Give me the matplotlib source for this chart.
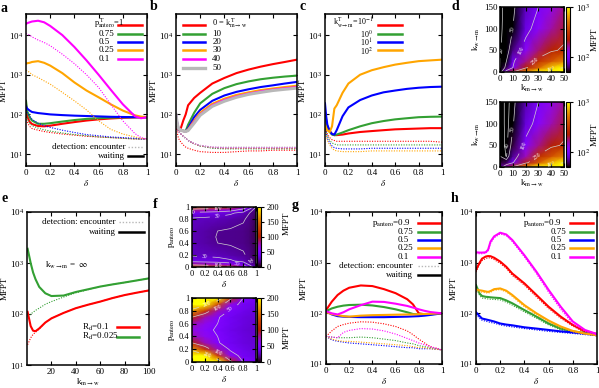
import numpy as np
import matplotlib
matplotlib.use('Agg')
import matplotlib.pyplot as plt
from matplotlib.colors import LogNorm, Normalize

plt.rcParams['font.family'] = ['Liberation Serif', 'DejaVu Serif']
plt.rcParams['mathtext.fontset'] = 'stix'
plt.rcParams['font.size'] = 6.5

# ---------------- data ----------------
# panel a : MFPT vs delta for several p_antero^T
d_a = [0, 0.01, 0.03, 0.05, 0.1, 0.15, 0.2, 0.3, 0.4, 0.5, 0.6, 0.7, 0.8, 0.9, 0.95, 1.0]
a_solid = {
    '1':    [180, 90, 65, 57, 51, 50, 52, 58, 64, 70, 75, 79, 82, 84, 85, 85],
    '0.75': [220, 120, 85, 70, 58, 58, 60, 66, 72, 77, 80, 83, 84, 85, 85, 85],
    '0.5':  [160, 140, 125, 115, 108, 104, 100, 96, 93, 91, 89, 87, 86, 85, 85, 85],
    '0.25': [1900, 1950, 2000, 2100, 2200, 2000, 1700, 1100, 640, 400, 270, 180, 125, 95, 88, 85],
    '0.1':  [19000, 20000, 21000, 22000, 23000, 21000, 17000, 10000, 5000, 2300, 1000, 420, 180, 90, 80, 85],
}
a_dot = {
    '1':    [100, 65, 50, 44, 40, 37, 35, 32, 30, 28, 27, 26, 25, 24, 24, 24],
    '0.75': [110, 80, 60, 52, 45, 41, 38, 34, 31, 29, 27, 26, 25, 24, 24, 24],
    '0.5':  [130, 110, 90, 75, 60, 52, 47, 40, 35, 31, 29, 27, 26, 25, 24, 24],
    '0.25': [1300, 1250, 1150, 1000, 850, 700, 580, 360, 220, 130, 69, 42, 32, 27, 25, 24],
    '0.1':  [11000, 10500, 10000, 9000, 7500, 6500, 5400, 3300, 1900, 1000, 480, 180, 69, 33, 26, 24],
}

# panel b : several k_m->w^T
d_b = [0, 0.01, 0.02, 0.04, 0.06, 0.08, 0.1, 0.15, 0.2, 0.3, 0.4, 0.5, 0.6, 0.7, 0.8, 0.9, 1.0]
b_solid = {
    '0':  [60, 45, 40, 45, 70, 100, 170, 260, 350, 600, 830, 1100, 1350, 1600, 1850, 2100, 2400],
    '10': [60, 50, 42, 40, 39, 38, 55, 110, 190, 330, 460, 580, 680, 770, 840, 900, 950],
    '20': [100, 60, 45, 40, 38, 37, 45, 85, 130, 220, 300, 370, 430, 490, 540, 600, 660],
    '30': [80, 55, 45, 40, 38, 37, 42, 70, 110, 185, 250, 310, 360, 410, 450, 490, 530],
    '40': [100, 60, 45, 40, 38, 37, 40, 65, 100, 170, 230, 285, 335, 380, 420, 455, 490],
    '50': [100, 60, 45, 40, 38, 37, 39, 60, 95, 160, 215, 270, 320, 360, 400, 430, 460],
}
b_dot = {
    '0':  [50, 35, 25, 20, 17, 15, 14, 12.5, 11.5, 11, 11, 11.5, 12, 12, 12.5, 12.5, 12.5],
    '10': [55, 45, 38, 32, 28, 25, 22, 18, 16, 14, 13.5, 13.5, 13.5, 13.5, 13.5, 13.5, 13.5],
    '20': [55, 45, 38, 32, 28, 25, 22, 18, 16, 14.5, 14, 14, 14, 14, 14, 14, 14],
    '30': [55, 45, 38, 32, 28, 25, 22, 18, 16, 14.5, 14, 14, 14, 14, 14, 14, 14],
    '40': [55, 45, 38, 32, 28, 25, 22, 18.5, 16.5, 15, 14.5, 14.5, 14.5, 14.5, 14.5, 14.5, 14.5],
    '50': [55, 45, 38, 32, 28, 25, 22, 18.5, 16.5, 15, 15, 15, 15, 15, 15, 15, 15],
}

# panel c : several k_w->m^T
d_c = d_b
c_solid = {
    '-1': [110, 70, 50, 38, 32, 30, 30, 31, 33, 36, 38, 40, 42, 43, 44, 45, 45],
    '0':  [100, 65, 48, 36, 31, 30, 31, 35, 40, 50, 60, 68, 75, 80, 85, 87, 88],
    '1':  [190, 90, 55, 38, 32, 31, 40, 90, 150, 230, 300, 360, 400, 440, 470, 490, 500],
    '2':  [55, 45, 40, 36, 50, 140, 170, 350, 600, 1000, 1300, 1550, 1800, 2000, 2200, 2300, 2400],
}
c_dot = {
    '-1': [60, 40, 32, 26, 23, 22, 21, 21, 21, 21, 21, 21, 21, 21, 21, 21, 20],
    '0':  [55, 38, 28, 22, 19, 18, 17, 17, 17, 17, 17, 17, 17, 17, 17, 17, 17],
    '1':  [50, 35, 25, 19, 16, 14.5, 14, 13.5, 13.5, 13.5, 14, 14, 14, 14, 14, 14, 14],
    '2':  [45, 30, 22, 17, 14, 12.5, 12, 11.5, 11.5, 11.5, 12, 12, 12, 12, 12, 12, 12],
}

# panel d : heat maps, k_m->w (x) vs k_w->m (y)
kmw = [0, 5, 10, 20, 30, 40, 50]
kwm = [0, 10, 25, 50, 100, 150]
d_top = [
    [30, 120, 250, 600, 1000, 1300, 1600],
    [20, 60, 100, 220, 450, 800, 1000],
    [18, 50, 90, 170, 280, 400, 550],
    [16, 40, 65, 120, 180, 230, 270],
    [15, 30, 50, 85, 120, 160, 200],
    [15, 27, 45, 75, 100, 130, 170],
]
d_bot = [
    [70, 150, 260, 600, 1000, 1300, 1600],
    [55, 60, 95, 210, 420, 720, 1000],
    [50, 39, 68, 150, 260, 380, 520],
    [48, 37, 56, 110, 170, 220, 265],
    [48, 36, 48, 82, 115, 155, 195],
    [48, 36, 45, 72, 100, 128, 165],
]

# panel e : MFPT vs k_m->w, k_w->m = inf
k_e = [0.5, 2, 3, 5, 7, 10, 15, 20, 30, 40, 50, 60, 70, 80, 90, 100]
e_green = [1900, 1300, 1000, 650, 480, 340, 255, 225, 230, 270, 305, 345, 380, 415, 455, 500]
e_green_dot = [90, 95, 100, 108, 118, 130, 155, 175, 215, 260, 300, 345, 380, 415, 455, 500]
e_red = [110, 75, 58, 47, 46, 52, 68, 82, 105, 130, 152, 175, 205, 235, 262, 290]
e_red_dot = [25, 30, 34, 40, 44, 51, 68, 82, 105, 130, 152, 175, 205, 235, 262, 290]

# panel f : heat maps, delta (x) vs p_antero (y)
f_x1 = [0, 0.2, 0.4, 0.6, 0.8, 0.9, 1.0]
f_y1 = [0, 0.05, 0.1, 0.2, 0.4, 0.5, 0.6, 0.8, 0.9, 0.95, 1.0]
f_top = [
    [150, 140, 130, 110, 70, 40, 20],
    [80, 75, 70, 60, 40, 25, 15],
    [40, 38, 36, 32, 26, 20, 12],
    [28, 27, 26, 24, 21, 18, 10],
    [25, 23, 20, 19, 18, 16, 10],
    [25, 23, 19.5, 19, 18, 16, 10],
    [25, 23, 20, 19, 18, 16, 10],
    [28, 27, 26, 24, 21, 18, 10],
    [40, 38, 36, 32, 26, 20, 12],
    [80, 75, 70, 60, 40, 25, 15],
    [150, 140, 130, 110, 70, 40, 20],
]
f_x2 = [0, 0.2, 0.4, 0.6, 0.8, 1.0]
f_y2 = [0, 0.1, 0.2, 0.3, 0.4, 0.5, 0.6, 0.7, 0.8, 0.9, 1.0]
f_bot = [
    [400, 350, 250, 110, 50, 40],
    [300, 220, 130, 62, 42, 36],
    [170, 120, 75, 46, 38, 33],
    [100, 75, 52, 40, 35, 32],
    [75, 62, 50, 40, 35, 31],
    [65, 56, 47, 38, 33, 30],
    [75, 62, 50, 40, 35, 31],
    [100, 75, 52, 40, 35, 32],
    [170, 120, 75, 46, 38, 33],
    [300, 220, 130, 62, 42, 36],
    [400, 350, 250, 110, 50, 40],
]

# panel g
d_g = [0, 0.05, 0.1, 0.15, 0.2, 0.3, 0.4, 0.5, 0.6, 0.7, 0.75, 0.8, 0.85, 0.9, 1.0]
g_solid = {
    '0.9':  [115, 170, 230, 280, 320, 355, 345, 300, 250, 190, 150, 100, 96, 97, 100],
    '0.75': [110, 125, 135, 142, 146, 148, 143, 133, 120, 105, 97, 95, 95, 96, 100],
    '0.5':  [110, 95, 88, 86, 85, 84, 84, 84, 85, 86, 87, 88, 90, 93, 100],
    '0.25': [105, 97, 92, 88, 86, 90, 92, 93, 94, 95, 95, 96, 97, 98, 100],
    '0.1':  [110, 100, 95, 105, 120, 145, 170, 168, 155, 140, 130, 120, 112, 106, 100],
}
g_dot = {
    '0.9':  [35, 45, 55, 60, 64, 68, 67, 62, 55, 45, 38, 31, 26, 22, 19],
    '0.75': [35, 34, 33, 33, 33, 34, 33, 31, 29, 26, 25, 23, 22, 21, 19],
    '0.5':  [35, 30, 28, 27, 26, 25, 24, 23, 22, 21, 21, 20, 20, 20, 19],
    '0.25': [35, 31, 29, 28, 28, 27, 26, 25, 24, 23, 22, 21, 21, 20, 19],
    '0.1':  [35, 34, 33, 42, 46, 50, 49, 45, 39, 32, 29, 26, 24, 22, 19],
}

# panel h
d_h = [0, 0.03, 0.05, 0.08, 0.1, 0.12, 0.15, 0.2, 0.25, 0.3, 0.4, 0.5, 0.6, 0.7, 0.8, 0.9, 1.0]
h_solid = {
    '0.9':  [720, 1000, 1200, 1320, 1350, 1340, 1250, 1050, 830, 610, 390, 230, 135, 86, 59, 44, 39],
    '0.75': [360, 245, 220, 212, 210, 207, 204, 200, 180, 158, 116, 86, 63, 50, 44, 41, 39],
    '0.5':  [105, 88, 79, 76, 74, 72, 69, 63, 60, 58, 53, 50, 47, 44, 42, 40, 37],
    '0.25': [295, 285, 280, 270, 265, 275, 300, 310, 280, 230, 145, 100, 72, 55, 45, 40, 37],
    '0.1':  [1600, 1580, 1580, 1600, 1800, 2600, 3300, 3900, 3600, 2800, 1400, 660, 290, 135, 69, 47, 39],
}
h_dot = {
    '0.9':  [650, 950, 1100, 1200, 1250, 1240, 1150, 970, 770, 560, 360, 210, 125, 80, 56, 42, 37],
    '0.75': [330, 225, 200, 195, 192, 190, 188, 184, 166, 145, 107, 80, 59, 47, 42, 39, 37],
    '0.5':  [95, 80, 73, 70, 68, 66, 64, 59, 56, 54, 50, 47, 44, 42, 40, 38, 36],
    '0.25': [270, 265, 262, 255, 250, 260, 285, 295, 265, 215, 135, 93, 68, 52, 43, 39, 36],
    '0.1':  [1500, 1500, 1500, 1550, 1700, 2400, 3100, 3700, 3400, 2600, 1300, 600, 260, 120, 62, 44, 37],
}

# ---------------- styling ----------------
RED, GRN, BLU, ORA, MAG, GRY = '#ff0000', '#33a033', '#0000ff', '#ffa500', '#ff00ff', '#b8b8b8'
five = [RED, GRN, BLU, ORA, MAG]
DOT = (0, (1, 1.3))
W, H = 599, 388
fig = plt.figure(figsize=(W / 100, H / 100), dpi=100)


def box(l, t, r, b):
    return fig.add_axes([l / W, 1 - b / H, (r - l) / W, (b - t) / H])


def frame(ax, log=True, size=6.5):
    ax.tick_params(direction='in', top=True, right=True, length=3, width=0.8,
                   labelsize=size, pad=2)
    for s in ax.spines.values():
        s.set_linewidth(1.1)
    if log:
        ax.set_yscale('log')
    ax.minorticks_off()


def delta_axis(ax):
    ax.set_xlim(0, 1)
    ax.set_xticks([0, 0.2, 0.4, 0.6, 0.8, 1])
    ax.set_xticklabels(['0', '0.2', '0.4', '0.6', '0.8', '1'])
    ax.set_xlabel(r'$\delta$', labelpad=1)


def key(ax, y, label, color, x0, x1, tx, ha='left', ls='-', lw=1.8, fs=6.5, ty=None):
    ax.plot([x0, x1], [y, y], transform=ax.transAxes, color=color, ls=ls, lw=lw, clip_on=False)
    ax.text(tx, y if ty is None else ty, label, transform=ax.transAxes, ha=ha,
            va='center', fontsize=fs)


rows = [0.928, 0.870, 0.815, 0.760, 0.705, 0.645, 0.585]
PA_T = r'p$_{\mathrm{antero}}^{\,\mathrm{T}}$=1'
PA = r'p$_{\mathrm{antero}}$=0.9'
KMW = r'k$_{\mathrm{m}\rightarrow\mathrm{w}}$'
KWM = r'k$_{\mathrm{w}\rightarrow\mathrm{m}}$'

# ---- a ----
ax = box(26, 14, 147, 166)
frame(ax)
for c, k in zip(five, a_solid):
    ax.plot(d_a, a_dot[k], color=c, ls=DOT, lw=0.8)
    ax.plot(d_a, a_solid[k], color=c, lw=1.5)
ax.set_ylim(5, 3.4e4)
ax.set_yticks([10, 100, 1000, 10000])
delta_axis(ax)
ax.set_ylabel('MFPT', labelpad=1)
labs = [PA_T, '0.75', '0.5', '0.25', '0.1']
for i, (c, l) in enumerate(zip(five, labs)):
    key(ax, rows[i], l, c, 0.76, 0.96, 0.56 if i == 0 else 0.6,
        fs=6 if i == 0 else 6.5, ty=0.94 if i == 0 else None)
key(ax, 0.127, 'detection: encounter', GRY, 0.84, 0.965, 0.82, ha='right', ls=DOT, lw=1)
key(ax, 0.068, 'waiting', 'black', 0.84, 0.965, 0.82, ha='right')

# ---- b ----
ax = box(176, 14, 297, 166)
frame(ax)
bcols = five + [GRY]
for c, k in zip(bcols, b_solid):
    ax.plot(d_b, b_dot[k], color=c, ls=DOT, lw=0.8)
    ax.plot(d_b, b_solid[k], color=c, lw=1.5 if k != '50' else 2.2)
ax.set_ylim(5, 3.4e4)
ax.set_yticks([10, 100, 1000, 10000])
delta_axis(ax)
ax.set_ylabel('MFPT', labelpad=1)
labs = [r'0 = k$_{\mathrm{m}\rightarrow\mathrm{w}}^{\,\mathrm{T}}$', '10', '20', '30', '40', '50']
for i, (c, l) in enumerate(zip(bcols, labs)):
    key(ax, rows[i], l, c, 0.06, 0.24, 0.3, lw=1.8 if i < 5 else 2.4,
        fs=6 if i == 0 else 6.5, ty=0.94 if i == 0 else None)

# ---- c ----
ax = box(325, 14, 442, 166)
frame(ax)
ccols = [RED, GRN, BLU, ORA]
for c, k in zip(ccols, c_solid):
    ax.plot(d_c, c_dot[k], color=c, ls=DOT, lw=0.8)
    ax.plot(d_c, c_solid[k], color=c, lw=1.5)
ax.set_ylim(5, 3.4e4)
ax.set_yticks([10, 100, 1000, 10000])
delta_axis(ax)
ax.set_ylabel('MFPT', labelpad=1)
labs = [r'k$_{\mathrm{w}\rightarrow\mathrm{m}}^{\,\mathrm{T}}$=10$^{-1}$', r'10$^{0}$', r'10$^{1}$', r'10$^{2}$']
for i, (c, l) in enumerate(zip(ccols, labs)):
    key(ax, rows[i], l, c, 0.45, 0.66, 0.07 if i == 0 else 0.3, fs=5.8,
        ty=0.94 if i == 0 else rows[i] - 0.006)

# ---- d ----
cmap = plt.get_cmap('gnuplot')
dfmt = {20: '20', 40: '40', 50: '50', 100: '100', 250: '250', 1000: r'10$^3$'}
for grid, (t, b), lv in [(d_top, (7, 72), [20, 50, 100, 250, 1000]),
                         (d_bot, (102, 167), [40, 50, 100, 250, 1000])]:
    ax = box(500, t, 564, b)
    Z = np.array(grid, dtype=float)
    m = ax.pcolormesh(kmw, kwm, Z, cmap=cmap, norm=LogNorm(50, 1000), shading='gouraud')
    cs = ax.contour(kmw, kwm, Z, levels=lv, colors='#d0d0d0', linewidths=0.5)
    ax.clabel(cs, fmt=dfmt, fontsize=4, colors='white', inline=True)
    frame(ax, log=False)
    ax.set_xlim(0, 50)
    ax.set_ylim(0, 150)
    ax.set_xticks([0, 10, 20, 30, 40, 50])
    ax.set_yticks([0, 50, 100, 150])
    ax.set_xlabel(KMW, labelpad=0)
    ax.set_ylabel(KWM, labelpad=1)
    cax = box(566, t, 570, b)
    cb = fig.colorbar(m, cax=cax)
    cb.set_ticks([100, 1000])
    cb.set_ticklabels([r'10$^2$', r'10$^3$'])
    cax.minorticks_off()
    cax.tick_params(labelsize=6.5, length=2, pad=2)
    cb.set_label('MFPT', labelpad=1, fontsize=6.5)
    cb.outline.set_linewidth(0.8)

# ---- e ----
ax = box(27, 212, 149, 365)
frame(ax)
ax.plot(k_e, e_green_dot, color=GRN, ls=DOT, lw=0.8)
ax.plot(k_e, e_red_dot, color=RED, ls=DOT, lw=0.8)
ax.plot(k_e, e_green, color=GRN, lw=1.5)
ax.plot(k_e, e_red, color=RED, lw=1.5)
ax.set_xlim(0, 100)
ax.set_ylim(10, 1e4)
ax.set_yticks([10, 100, 1000, 10000])
ax.set_xticks([20, 40, 60, 80, 100])
ax.set_xlabel(KMW, labelpad=1)
ax.set_ylabel('MFPT', labelpad=1)
key(ax, 0.937, 'detection: encounter', GRY, 0.75, 0.96, 0.73, ha='right', ls=DOT, lw=1)
key(ax, 0.871, 'waiting', 'black', 0.75, 0.96, 0.73, ha='right')
ax.text(0.15, 0.654, KWM + r' =  $\infty$', transform=ax.transAxes, va='center', fontsize=6.5)
key(ax, 0.248, r'R$_{\mathrm{d}}$=0.1', RED, 0.74, 0.92, 0.45)
key(ax, 0.185, r'R$_{\mathrm{d}}$=0.025', GRN, 0.74, 0.92, 0.45)

# ---- f ----
ffmt = {20: '20', 30: '30', 50: '50', 100: '100', 200: '200'}
for grid, xs, ys, (t, b), lv in [(f_top, f_x1, f_y1, (207, 267), [20, 30, 50, 100]),
                                 (f_bot, f_x2, f_y2, (298, 362), [50, 100, 200])]:
    ax = box(192, t, 256, b)
    Z = np.array(grid, dtype=float)
    m = ax.pcolormesh(xs, ys, Z, cmap=cmap, norm=Normalize(0, 200), shading='gouraud')
    cs = ax.contour(xs, ys, Z, levels=lv, colors='#d0d0d0', linewidths=0.5)
    ax.clabel(cs, fmt=ffmt, fontsize=4, colors='white', inline=True)
    frame(ax, log=False, size=6)
    ax.set_ylim(0, 1)
    delta_axis(ax)
    ax.set_yticks([0, 0.2, 0.4, 0.6, 0.8, 1])
    ax.set_yticklabels(['0', '0.2', '0.4', '0.6', '0.8', '1'])
    ax.set_ylabel(r'p$_{\mathrm{antero}}$', labelpad=1)
    cax = box(257, t, 261, b)
    cb = fig.colorbar(m, cax=cax)
    cb.set_ticks([0, 50, 100, 150, 200])
    cax.tick_params(labelsize=6, length=2, pad=2)
    cb.outline.set_linewidth(0.8)

# ---- g ----
ax = box(326, 212, 442, 364)
frame(ax)
for c, k in zip(five, g_solid):
    ax.plot(d_g, g_dot[k], color=c, ls=DOT, lw=0.8)
    ax.plot(d_g, g_solid[k], color=c, lw=1.5)
ax.set_ylim(10, 1e4)
ax.set_yticks([10, 100, 1000, 10000])
delta_axis(ax)
ax.set_ylabel('MFPT', labelpad=1)
labs = [PA, '0.75', '0.5', '0.25', '0.1']
for i, (c, l) in enumerate(zip(five, labs)):
    key(ax, rows[i], l, c, 0.79, 0.98, 0.4 if i == 0 else 0.62)
key(ax, rows[5], 'detection: encounter', GRY, 0.79, 0.98, 0.75, ha='right', ls=DOT, lw=1)
key(ax, rows[6], 'waiting', 'black', 0.79, 0.98, 0.75, ha='right')
fig.text(287 / W, 1 - 223 / H, 'MFPT', rotation=90, ha='center', va='center', fontsize=6.5)
fig.text(287 / W, 1 - 337 / H, 'MFPT', rotation=90, ha='center', va='center', fontsize=6.5)

# ---- h ----
ax = box(476, 212, 597, 364)
frame(ax)
for c, k in zip(five, h_solid):
    ax.plot(d_h, h_dot[k], color=c, ls=DOT, lw=0.8)
    ax.plot(d_h, h_solid[k], color=c, lw=1.5)
ax.set_ylim(10, 1e4)
ax.set_yticks([10, 100, 1000, 10000])
delta_axis(ax)
ax.set_ylabel('MFPT', labelpad=1)
for i, (c, l) in enumerate(zip(five, labs)):
    key(ax, rows[i], l, c, 0.78, 0.97, 0.39 if i == 0 else 0.62)

# panel letters
for s, x, y in [('a', 4, 8), ('b', 154, 7), ('c', 303, 7), ('d', 455, 7),
                ('e', 5, 199), ('f', 155, 205), ('g', 295, 205), ('h', 455, 198)]:
    fig.text(x / W, 1 - y / H, s, fontsize=10, fontweight='bold', ha='center', va='center')

fig.savefig('out.png', dpi=100)
